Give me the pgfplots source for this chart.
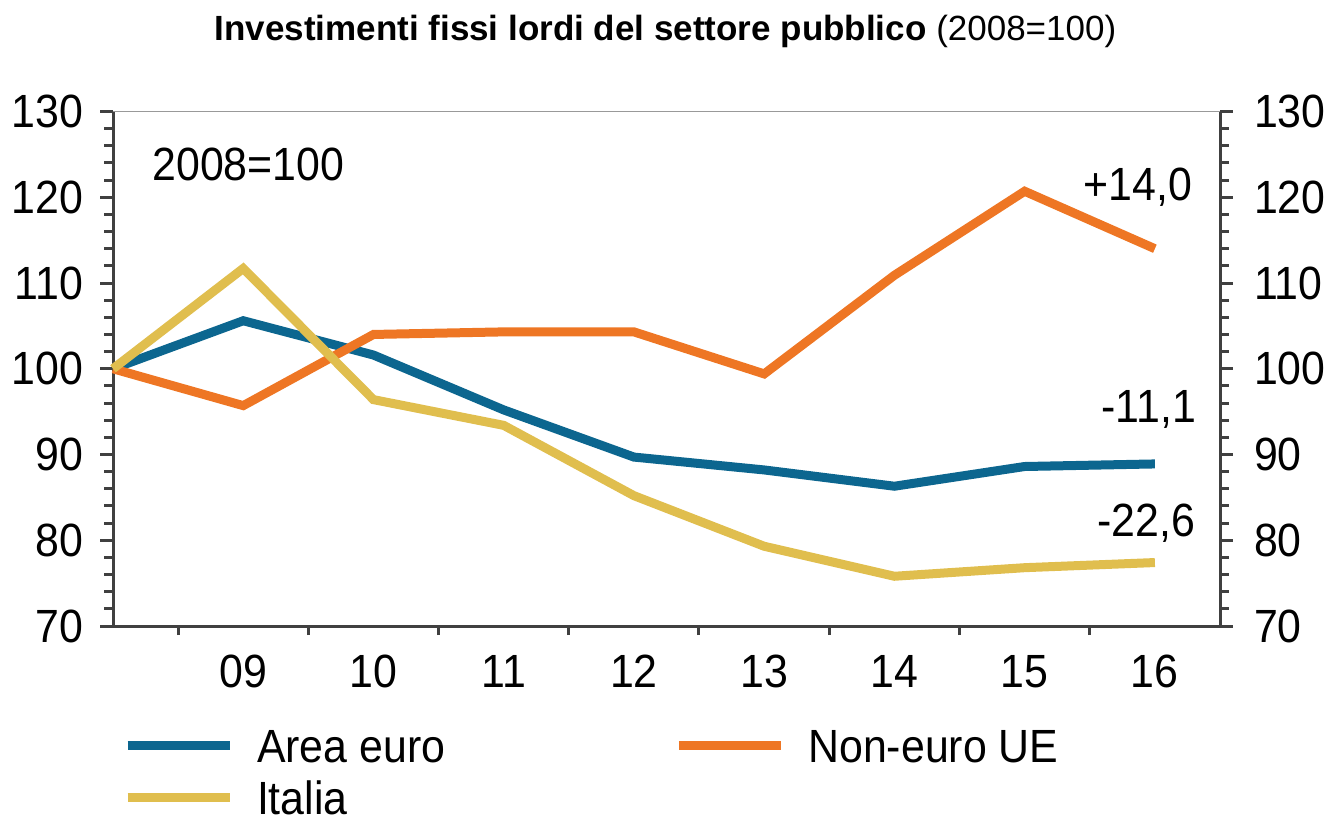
\documentclass[border=0pt]{standalone}
\usepackage{pgfplots}
\pgfplotsset{compat=1.18}
\usepackage{fontspec}
\setmainfont{Liberation Sans}
\newfontfamily\narrowfont[FakeStretch=0.92]{Liberation Sans}
\definecolor{cblue}{RGB}{12,102,143}
\definecolor{corange}{RGB}{238,118,36}
\definecolor{cgold}{RGB}{224,190,78}
\definecolor{caxis}{RGB}{64,64,64}
\newcommand{\lblfont}{\narrowfont\fontsize{23.3}{28}\selectfont}
\begin{document}
\begin{tikzpicture}
\path[use as bounding box] (0pt,0pt) rectangle (664pt,407.5pt);
\node at (332.75pt,392pt) {\fontsize{17.5}{20}\selectfont\textbf{Investimenti fissi lordi del settore pubblico} (2008=100)};
\begin{axis}[
  at={(56.5pt,94.5pt)}, anchor=south west,
  scale only axis, width=553.5pt, height=257.25pt,
  xmin=2008, xmax=2016.5, ymin=70, ymax=130,
  axis x line*=bottom, axis y line*=left,
  axis line style={caxis, line width=1.5pt, -},
  xtick={2009,...,2016}, xticklabels={09,10,11,12,13,14,15,16},
  major x tick style={draw=none},
  minor xtick={2008.5,2009.5,...,2015.5},
  ytick={70,80,...,130}, minor y tick num=4,
  tick align=outside,
  tick style={caxis, line width=1.5pt},
  major tick length=6.5pt, minor tick length=4.5pt,
  ticklabel style={font=\lblfont},
  xticklabel style={yshift=-4.5pt},
  yticklabel style={xshift=-5pt},
  /pgf/number format/assume math mode=true,
  clip=false,
  legend columns=2,
  legend style={draw=none, fill=none, at={(0.0091,-0.2)}, anchor=north west,
    font=\lblfont, inner sep=0pt, outer sep=0pt, row sep=9.4pt,
    nodes={inner sep=0pt, text height=16.6pt, text depth=0pt},
    /tikz/every odd column/.append style={column sep=11.5pt},
    /tikz/every even column/.append style={column sep=114.5pt},
    cells={anchor=west}},
  legend image code/.code={\draw[#1] (0pt,0pt) -- (51pt,0pt);},
]
\addplot[cblue, line width=4.5pt] coordinates {
(2008,100) (2009,105.6) (2010,101.6) (2011,95.2) (2012,89.7) (2013,88.2) (2014,86.3) (2015,88.6) (2016,88.9)};
\addlegendentry{Area euro}
\addplot[corange, line width=4.5pt] coordinates {
(2008,100) (2009,95.7) (2010,104.0) (2011,104.3) (2012,104.3) (2013,99.4) (2014,110.9) (2015,120.7) (2016,114.0)};
\addlegendentry{Non-euro UE}
\addplot[cgold, line width=4.5pt] coordinates {
(2008,100) (2009,111.7) (2010,96.4) (2011,93.4) (2012,85.2) (2013,79.3) (2014,75.8) (2015,76.8) (2016,77.4)};
\addlegendentry{Italia}
\draw[gray!80, line width=0.6pt] (rel axis cs:0,1) -- (rel axis cs:1,1);
\node[anchor=west, font=\lblfont, inner sep=0pt] at (axis cs:2008.3,123.8) {2008=100};
\node[anchor=east, font=\lblfont, inner sep=0pt] at (axis cs:2016.29,121.2) {+14,0};
\node[anchor=east, font=\lblfont, inner sep=0pt] at (axis cs:2016.32,95.2) {-11,1};
\node[anchor=east, font=\lblfont, inner sep=0pt] at (axis cs:2016.31,82.0) {-22,6};
\end{axis}
\begin{axis}[
  at={(56.5pt,94.5pt)}, anchor=south west,
  scale only axis, width=553.5pt, height=257.25pt,
  xmin=2008, xmax=2016.5, ymin=70, ymax=130,
  axis x line=none, axis y line*=right,
  axis line style={caxis, line width=1.5pt, -},
  ytick={70,80,...,130}, minor y tick num=4,
  tick align=outside,
  tick style={caxis, line width=1.5pt},
  major tick length=6.5pt, minor tick length=4.5pt,
  ticklabel style={font=\lblfont},
  yticklabel style={xshift=7pt},
  /pgf/number format/assume math mode=true,
]
\end{axis}
\end{tikzpicture}
\end{document}
